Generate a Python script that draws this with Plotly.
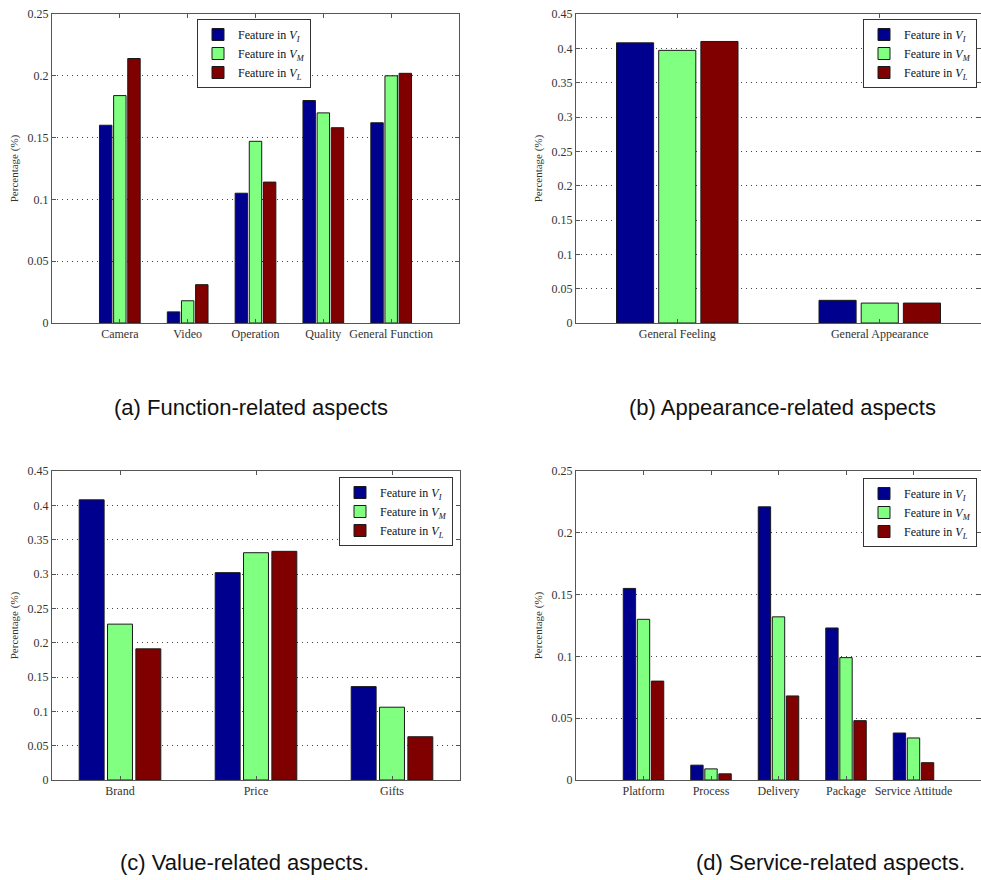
import plotly.graph_objects as go

# ---------------- data ----------------
series_names = ["Feature in <i>V</i><sub><i>I</i></sub>",
                "Feature in <i>V</i><sub><i>M</i></sub>",
                "Feature in <i>V</i><sub><i>L</i></sub>"]

func_cats = ["Camera", "Video", "Operation", "Quality", "General Function"]
func_VI = [0.160, 0.009, 0.105, 0.180, 0.162]
func_VM = [0.184, 0.018, 0.147, 0.170, 0.200]
func_VL = [0.214, 0.031, 0.114, 0.158, 0.202]

app_cats = ["General Feeling", "General Appearance"]
app_VI = [0.408, 0.033]
app_VM = [0.397, 0.029]
app_VL = [0.410, 0.029]

val_cats = ["Brand", "Price", "Gifts"]
val_VI = [0.408, 0.302, 0.136]
val_VM = [0.227, 0.331, 0.106]
val_VL = [0.191, 0.333, 0.063]

serv_cats = ["Platform", "Process", "Delivery", "Package", "Service Attitude"]
serv_VI = [0.155, 0.012, 0.221, 0.123, 0.038]
serv_VM = [0.130, 0.009, 0.132, 0.099, 0.034]
serv_VL = [0.080, 0.005, 0.068, 0.048, 0.014]

captions = ["(a) Function-related aspects",
            "(b) Appearance-related aspects",
            "(c) Value-related aspects.",
            "(d) Service-related aspects."]

y_title = "Percentage (%)"

# ---------------- styling ----------------
W, H = 981, 880
colors = ["#00008F", "#80FF80", "#800000"]
serif = "Liberation Serif, Times New Roman, serif"
sans = "Liberation Sans, Arial, sans-serif"
axis_col = "#555555"
text_col = "#333333"

panels = [
    dict(cats=func_cats, vals=[func_VI, func_VM, func_VL], xr=[0, 6], yr=[0, 0.25], dy=0.05,
         px=(52, 459), py=(14, 323), leg=(197, 19, "left")),
    dict(cats=app_cats, vals=[app_VI, app_VM, app_VL], xr=[0.5, 2.5], yr=[0, 0.45], dy=0.05,
         px=(576, 981), py=(14, 323), leg=(977, 19, "right")),
    dict(cats=val_cats, vals=[val_VI, val_VM, val_VL], xr=[0.5, 3.5], yr=[0, 0.45], dy=0.05,
         px=(52, 460), py=(471, 780), leg=(453, 477, "right")),
    dict(cats=serv_cats, vals=[serv_VI, serv_VM, serv_VL], xr=[0, 6], yr=[0, 0.25], dy=0.05,
         px=(576, 981), py=(471, 780), leg=(977, 478, "right")),
]
cap_pos = [(251, 407), (782, 407), (244, 862), (830, 862)]

fig = go.Figure()
layout = dict(
    width=W, height=H, margin=dict(l=0, r=0, t=0, b=0, autoexpand=False),
    paper_bgcolor="white", plot_bgcolor="white",
    barmode="group", bargap=0.375, bargroupgap=0.12,
    font=dict(family=serif, size=12, color=text_col),
    annotations=[],
)

for i, p in enumerate(panels):
    k = "" if i == 0 else str(i + 1)
    xs = list(range(1, len(p["cats"]) + 1))
    legname = "legend" + k
    for j in range(3):
        fig.add_trace(go.Bar(
            x=xs, y=p["vals"][j], name=series_names[j],
            marker=dict(color=colors[j], line=dict(color="#1a1a1a", width=1)),
            xaxis="x" + k, yaxis="y" + k, legend=legname,
            showlegend=True,
        ))
    x0, x1 = p["px"]
    y0, y1 = p["py"]
    ticks_y = [round(p["dy"] * n, 2) for n in range(int(round(p["yr"][1] / p["dy"])) + 1)]
    layout["xaxis" + k] = dict(
        domain=[x0 / W, x1 / W], range=p["xr"], anchor="y" + k,
        tickmode="array", tickvals=xs, ticktext=p["cats"],
        ticks="inside", ticklen=4, tickcolor=axis_col,
        showline=True, linecolor=axis_col, linewidth=1, mirror="ticks",
        showgrid=False, zeroline=False, automargin=False,
        tickfont=dict(family=serif, size=12, color=text_col),
    )
    layout["yaxis" + k] = dict(
        domain=[1 - y1 / H, 1 - y0 / H], range=p["yr"], anchor="x" + k,
        tickmode="array", tickvals=ticks_y, ticktext=[("%g" % v) for v in ticks_y],
        ticks="inside", ticklen=4, tickcolor=axis_col,
        showline=True, linecolor=axis_col, linewidth=1, mirror="ticks",
        showgrid=True, gridcolor="#444444", griddash="1px,4px", gridwidth=1,
        zeroline=False, automargin=False,
        tickfont=dict(family=serif, size=12, color=text_col),
        title=dict(text=y_title, font=dict(family=serif, size=11, color=text_col), standoff=6),
    )
    lx, ly, la = p["leg"]
    layout[legname] = dict(
        x=lx / W, y=1 - ly / H, xanchor=la, yanchor="top",
        bgcolor="white", bordercolor="#333333", borderwidth=1,
        font=dict(family=serif, size=12, color="#111111"),
        tracegroupgap=0, itemwidth=30,
    )
    cx, cy = cap_pos[i]
    layout["annotations"].append(dict(
        text=captions[i], x=cx / W, y=1 - cy / H, xref="paper", yref="paper",
        xanchor="center", yanchor="middle", showarrow=False,
        font=dict(family=sans, size=22, color="#111111"),
    ))

fig.update_layout(**layout)
fig.write_html(
    "out.html",
    config={"displayModeBar": False},
    post_script="document.body.style.margin='0';document.body.style.overflow='hidden';",
)
